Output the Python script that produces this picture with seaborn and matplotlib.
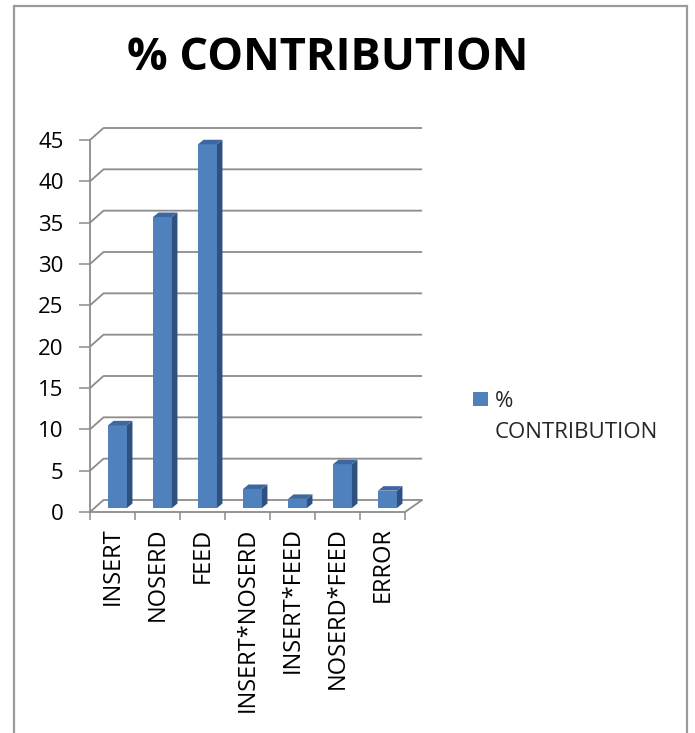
import numpy as np
import pandas as pd
import matplotlib
matplotlib.use("Agg")
import matplotlib.pyplot as plt
import seaborn as sns
from matplotlib.patches import Polygon, Rectangle, Patch
from matplotlib.transforms import ScaledTranslation

# ---- data ----
categories = ["INSERT", "NOSERD", "FEED", "INSERT*NOSERD", "INSERT*FEED", "NOSERD*FEED", "ERROR"]
contribution = [10.0, 35.2, 44.0, 2.3, 1.1, 5.3, 2.1]
y_ticks = [0, 5, 10, 15, 20, 25, 30, 35, 40, 45]
series_name = "% CONTRIBUTION"
legend_lines = ["%", "CONTRIBUTION"]
title_text = "% CONTRIBUTION"

# ---- style ----
FRONT = "#4F81BD"
SIDE = "#2E5182"
TOP = "#3C67A0"
GRID = "#8C8C8C"
FRAME = "#9A9A9A"

sns.set_theme(style="white")
plt.rcParams['font.family'] = ['Open Sans', 'DejaVu Sans']

W, H, DPI = 695, 733, 100
fig = plt.figure(figsize=(W / DPI, H / DPI), dpi=DPI)
fig.patch.set_facecolor("white")

ax_l, ax_b, ax_w, ax_h = 90, 512, 315, 372  # pixels: left, bottom(y from top), width, height
ax = fig.add_axes([ax_l / W, (H - ax_b) / H, ax_w / W, ax_h / H])
ax.set_facecolor("none")

df = pd.DataFrame({"factor": categories, "pct": contribution})
sns.barplot(data=df, x="factor", y="pct", color=FRONT, saturation=1, width=0.42,
            ax=ax, edgecolor="none", linewidth=0, zorder=3)

ax.set_xlim(-0.5, len(categories) - 0.5)
ax.set_ylim(y_ticks[0], y_ticks[-1])

px_x = ax_w / len(categories)        # pixels per x unit
px_y = ax_h / (y_ticks[-1] - y_ticks[0])  # pixels per y unit

def shift(dx, dy):
    return ScaledTranslation(dx / DPI, dy / DPI, fig.dpi_scale_trans)

# pseudo-3D bars: translate bars to middle depth and add side/top faces
bar_tr = ax.transData + shift(5, 4)
sdx, sdy = 5.5 / px_x, 4.5 / px_y
for p in list(ax.patches):
    x0, w, h = p.get_x(), p.get_width(), p.get_height()
    p.set_transform(bar_tr)
    p.set_clip_on(False)
    side = Polygon([(x0 + w, 0), (x0 + w, h), (x0 + w + sdx, h + sdy), (x0 + w + sdx, sdy)],
                   closed=True, facecolor=SIDE, edgecolor="none", transform=bar_tr,
                   zorder=3, clip_on=False)
    top = Polygon([(x0, h), (x0 + w, h), (x0 + w + sdx, h + sdy), (x0 + sdx, h + sdy)],
                  closed=True, facecolor=TOP, edgecolor="none", transform=bar_tr,
                  zorder=3, clip_on=False)
    ax.add_patch(side)
    ax.add_patch(top)

# back wall gridlines with left-wall diagonals
bdx, bdy = 13.5 / px_x, 12 / px_y
x_left = -0.5
x_right_back = len(categories) - 0.5 + 0.38
for v in y_ticks:
    ax.plot([x_left, x_left + bdx, x_right_back], [v, v + bdy, v + bdy],
            color=GRID, lw=1.3, clip_on=False, zorder=1, solid_capstyle="butt")
# floor right edge
ax.plot([len(categories) - 0.5, x_right_back], [0, bdy], color=GRID, lw=1.3,
        clip_on=False, zorder=1)

# axes / ticks
for s in ["top", "right"]:
    ax.spines[s].set_visible(False)
for s in ["left", "bottom"]:
    ax.spines[s].set_color(GRID)
    ax.spines[s].set_linewidth(1.3)
    ax.spines[s].set_zorder(2)

ax.set_yticks(y_ticks)
ax.set_yticklabels([str(v) for v in y_ticks])
ax.tick_params(axis="y", which="major", direction="out", length=8, width=1.1,
               color=GRID, pad=11, labelsize=16, labelcolor="black", left=True)
ax.set_xticks(range(len(categories)))
ax.set_xticklabels(categories, rotation=90)
ax.set_xticks(np.arange(-0.5, len(categories), 1.0), minor=True)
ax.tick_params(axis="x", which="major", length=0, pad=11, labelsize=17, labelcolor="black")
ax.tick_params(axis="x", which="minor", direction="out", length=6, width=1.1,
               color=GRID, bottom=True)
ax.set_xlabel("")
ax.set_ylabel("")
ax.grid(False)

# legend
handles = [Patch(facecolor=FRONT, edgecolor="none"),
           Patch(facecolor="none", edgecolor="none")]
fig.legend(handles, legend_lines, loc="upper left",
           bbox_to_anchor=(473 / W, 1 - 391 / H), frameon=False, fontsize=16,
           handlelength=0.68, handleheight=0.55, handletextpad=0.3,
           labelspacing=0.45, borderpad=0, borderaxespad=0)

# title
fig.text(328 / W, 1 - 58 / H, title_text, ha="center", va="center",
         fontsize=32.5, fontweight="bold", color="black")

# chart frame
fig.patches.append(Rectangle((14 / W, -0.01), (687 - 14) / W, (H - 6) / H + 0.01,
                             transform=fig.transFigure, fill=False,
                             edgecolor=FRAME, linewidth=1.6, zorder=0))

fig.savefig("out.png", dpi=DPI, facecolor="white")
